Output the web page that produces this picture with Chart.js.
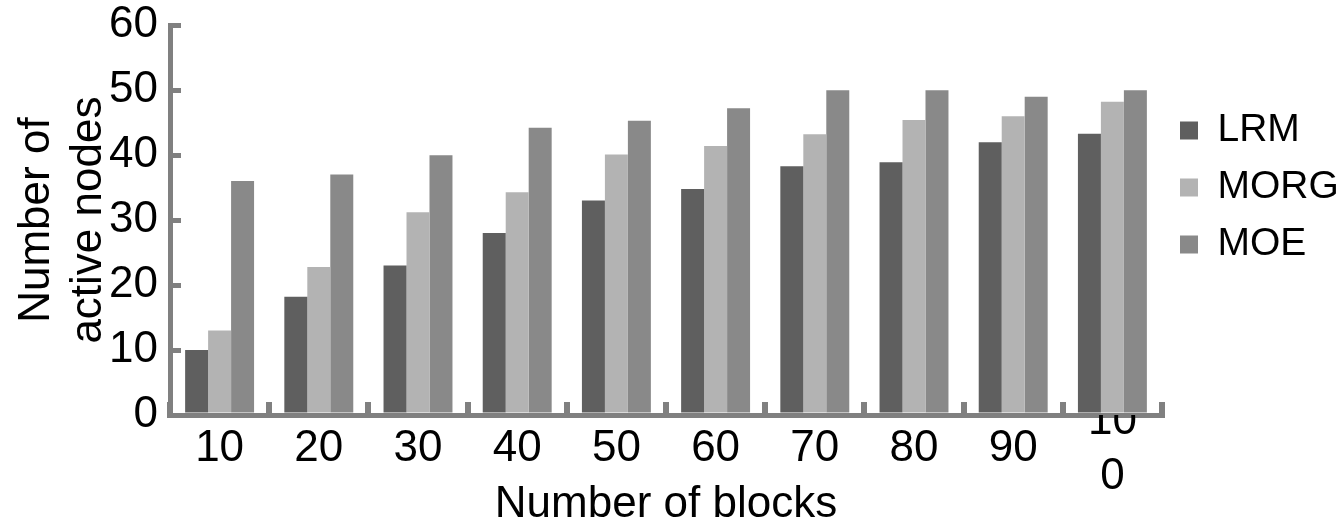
<!DOCTYPE html>
<html>
<head>
<meta charset="utf-8">
<script src="https://cdn.jsdelivr.net/npm/chart.js@4/dist/chart.umd.min.js"></script>
<style>
  html, body { margin: 0; padding: 0; background: #fff; }
  #wrap { width: 1341px; height: 525px; }
</style>
</head>
<body>
<div id="wrap"><canvas id="blockChart"></canvas></div>
<script>
// values
const categories = ['10', '20', '30', '40', '50', '60', '70', '80', '90', '100'];
const lrm  = [10, 18.2, 23, 28, 33, 34.8, 38.3, 38.9, 42, 43.3];
const morg = [13, 22.8, 31.2, 34.3, 40.1, 41.4, 43.2, 45.4, 46, 48.2];
const moe  = [36, 37, 40, 44.2, 45.3, 47.2, 50, 50, 49, 50];
const yTicks = [0, 10, 20, 30, 40, 50, 60];

const axisGray = '#808080';
const font = "'Liberation Sans', Arial, sans-serif";

const ctx = document.getElementById('blockChart').getContext('2d');
const blockChart = new Chart(ctx, {
    type: 'bar',
    data: {
        labels: categories,
        datasets: [
            { label: 'LRM',  data: lrm,  backgroundColor: '#5f5f5f' },
            { label: 'MORG', data: morg, backgroundColor: '#b3b3b3' },
            { label: 'MOE',  data: moe,  backgroundColor: '#898989' }
        ]
    },
    options: {
        responsive: true,
        maintainAspectRatio: false,
        animation: false,
        layout: { padding: 0 },
        datasets: {
            bar: { categoryPercentage: 0.695, barPercentage: 1, borderWidth: 0 }
        },
        plugins: {
            tooltip: { enabled: false },
            legend: {
                position: 'right',
                align: 'start',
                maxWidth: 179,
                // empty title only used to push the items down
                title: { display: true, text: '', padding: 0, font: { size: 10, lineHeight: '93px' } },
                labels: {
                    boxWidth: 18,
                    boxHeight: 18,
                    padding: 18,
                    color: '#000',
                    font: { family: font, size: 39 }
                }
            }
        },
        scales: {
            x: {
                afterFit: scale => { scale.height = 110; },
                border: { color: axisGray, width: 5, z: 1 },
                grid: { drawOnChartArea: false, color: axisGray, lineWidth: 6, tickLength: -13 },
                ticks: {
                    z: 2,
                    color: '#000',
                    padding: 6,
                    autoSkip: false,
                    maxRotation: 0,
                    font: { family: font, size: 44, lineHeight: 0.625 },
                    // the long label wraps onto two lines like the original
                    callback: (v, i) => {
                        const s = categories[i];
                        return s.length > 2 ? [s.slice(0, 2), '', s.slice(2)] : ['', s];
                    }
                },
                title: {
                    display: true,
                    text: 'Number of blocks',
                    color: '#000',
                    padding: { top: 0, bottom: 0 },
                    font: { family: font, size: 44, lineHeight: 0.91 }
                }
            },
            y: {
                min: 0,
                max: 60,
                afterFit: scale => { scale.width = 170; },
                afterBuildTicks: axis => { axis.ticks = yTicks.map(v => ({ value: v })); },
                border: { color: axisGray, width: 5, z: 1 },
                grid: { drawOnChartArea: false, color: axisGray, lineWidth: 5, tickLength: -11 },
                ticks: {
                    color: '#000',
                    padding: 23,
                    font: { family: font, size: 44, lineHeight: 0.1 }
                },
                title: {
                    display: true,
                    text: ['Number of', 'active nodes'],
                    color: '#000',
                    padding: { top: 11, bottom: 0 },
                    font: { family: font, size: 44, lineHeight: 1.18 }
                }
            }
        }
    }
});
</script>
</body>
</html>
